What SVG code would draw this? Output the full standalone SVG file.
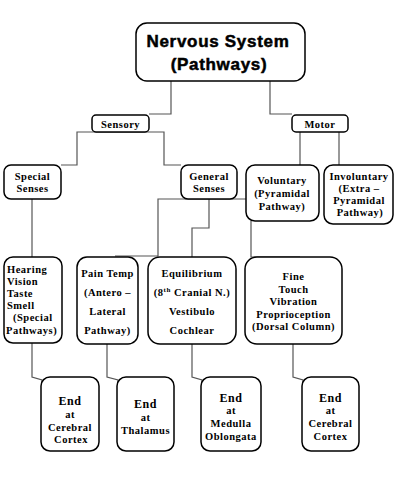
<svg xmlns="http://www.w3.org/2000/svg" width="400" height="480" viewBox="0 0 400 480">
<style>
.box{fill:#fff;stroke:#000;stroke-width:1.5}
.con{fill:none;stroke:#555;stroke-width:1.2}
.t{font-family:"Liberation Serif","DejaVu Serif","Times New Roman",serif;font-weight:bold;font-size:10.5px;fill:#000;text-anchor:middle;letter-spacing:0.5px}
.tl{text-anchor:start}
.title{font-family:"Liberation Sans",Arial,sans-serif;font-weight:bold;font-size:17px;fill:#000;stroke:#000;stroke-width:0.5;text-anchor:middle;letter-spacing:0.7px}
.big{font-size:12px}
</style>
<rect width="400" height="480" fill="#fff"/>
<g id="connectors" class="con">
<path d="M171,81 V114 H149"/>
<path d="M270,81 V114 H292"/>
<path d="M61,165 H77 V132 H164 V165 H181"/>
<path d="M300,132 V165"/>
<path d="M339,132 V165"/>
<path d="M32,199 V257"/>
<path d="M246,199 H158 V256 H115"/>
<path d="M209,199 V228 H192 V257"/>
<path d="M251,221 V257 H300"/>
<path d="M32,343 V377 L42,380 V412"/>
<path d="M107,344 V377 L118,380 V412"/>
<path d="M192,344 V377 L202,380 V412"/>
<path d="M293,344 V377 L303,380 V412"/>
</g>
<g id="title">
<rect class="box" x="136" y="23" width="169" height="58" rx="11"/>
<text class="title" x="218" y="47">Nervous System</text>
<text class="title" x="219" y="70">(Pathways)</text>
</g>
<g id="sensory">
<rect class="box" x="92" y="115" width="57" height="17" rx="4"/>
<text class="t" x="120.5" y="127.5">Sensory</text>
</g>
<g id="motor">
<rect class="box" x="292" y="115" width="56" height="17" rx="4"/>
<text class="t" x="320" y="127.5">Motor</text>
</g>
<g id="special-senses">
<rect class="box" x="4" y="165" width="57" height="34" rx="7"/>
<text class="t" x="32.5" y="180">Special</text>
<text class="t" x="32.5" y="192">Senses</text>
</g>
<g id="general-senses">
<rect class="box" x="181" y="165" width="56" height="34" rx="7"/>
<text class="t" x="209" y="180">General</text>
<text class="t" x="209" y="192">Senses</text>
</g>
<g id="voluntary">
<rect class="box" x="246" y="165" width="73" height="56" rx="9"/>
<text class="t" x="282" y="184">Voluntary</text>
<text class="t" x="282" y="197">(Pyramidal</text>
<text class="t" x="282" y="210">Pathway)</text>
</g>
<g id="involuntary">
<rect class="box" x="324" y="165" width="69" height="59" rx="9"/>
<text class="t" x="359" y="180">Involuntary</text>
<text class="t" x="359" y="192">(Extra –</text>
<text class="t" x="359" y="204">Pyramidal</text>
<text class="t" x="360" y="216">Pathway)</text>
</g>
<g id="special-pathways">
<rect class="box" x="4" y="257" width="58" height="86" rx="9"/>
<text class="t tl" x="7" y="273">Hearing</text>
<text class="t tl" x="7" y="285">Vision</text>
<text class="t tl" x="7" y="297">Taste</text>
<text class="t tl" x="7" y="309">Smell</text>
<text class="t tl" x="13" y="321">(Special</text>
<text class="t tl" x="6" y="334">Pathways)</text>
</g>
<g id="pain-temp">
<rect class="box" x="77" y="257" width="61" height="87" rx="10"/>
<text class="t" x="107.5" y="277">Pain Temp</text>
<text class="t" x="107.5" y="296">(Antero –</text>
<text class="t" x="107.5" y="315">Lateral</text>
<text class="t" x="107.5" y="334">Pathway)</text>
</g>
<g id="equilibrium">
<rect class="box" x="148" y="257" width="88" height="87" rx="12"/>
<text class="t" x="192" y="277">Equilibrium</text>
<text class="t" x="192" y="296">(8<tspan font-size="7" dy="-4">th</tspan><tspan dy="4"> Cranial N.)</tspan></text>
<text class="t" x="192" y="315">Vestibulo</text>
<text class="t" x="192" y="334">Cochlear</text>
</g>
<g id="dorsal-column">
<rect class="box" x="245" y="257" width="97" height="87" rx="12"/>
<text class="t" x="293.5" y="280">Fine</text>
<text class="t" x="293.5" y="293">Touch</text>
<text class="t" x="293.5" y="305">Vibration</text>
<text class="t" x="293.5" y="318">Proprioception</text>
<text class="t" x="293.5" y="330">(Dorsal Column)</text>
</g>
<g id="end-cortex-1">
<rect class="box" x="41" y="377" width="58" height="74" rx="9"/>
<text class="t big" x="70" y="405">End</text>
<text class="t" x="70" y="418">at</text>
<text class="t" x="70" y="431">Cerebral</text>
<text class="t" x="71" y="443">Cortex</text>
</g>
<g id="end-thalamus">
<rect class="box" x="117" y="377" width="57" height="74" rx="9"/>
<text class="t big" x="145.5" y="408">End</text>
<text class="t" x="145.5" y="421">at</text>
<text class="t" x="145.5" y="434">Thalamus</text>
</g>
<g id="end-medulla">
<rect class="box" x="201" y="377" width="60" height="74" rx="9"/>
<text class="t big" x="231" y="402">End</text>
<text class="t" x="231" y="414">at</text>
<text class="t" x="231" y="427">Medulla</text>
<text class="t" x="231" y="440">Oblongata</text>
</g>
<g id="end-cortex-2">
<rect class="box" x="302" y="377" width="57" height="74" rx="9"/>
<text class="t big" x="330.5" y="402">End</text>
<text class="t" x="330.5" y="414">at</text>
<text class="t" x="330.5" y="427">Cerebral</text>
<text class="t" x="330.5" y="440">Cortex</text>
</g>
</svg>
